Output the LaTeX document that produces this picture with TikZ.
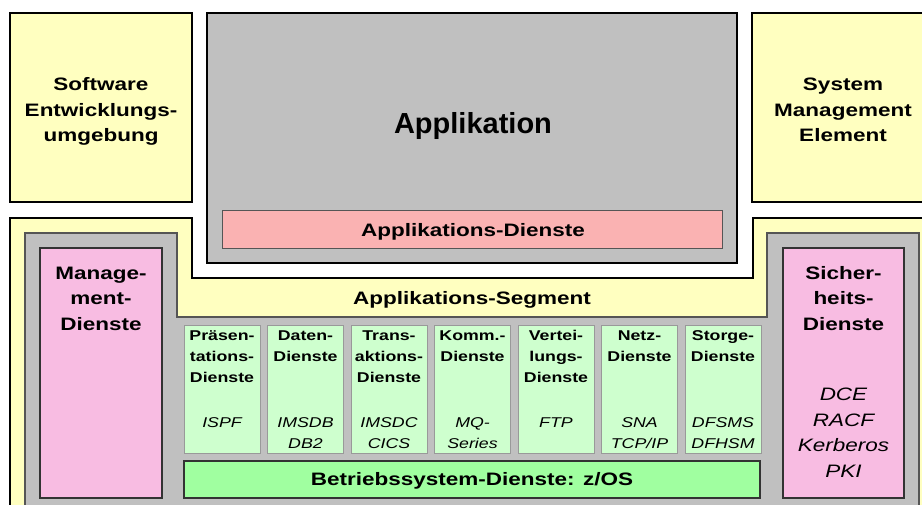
\documentclass[tikz,border=0pt]{standalone}
\usepackage{fontspec}
\setmainfont{Liberation Sans}[FakeStretch=1.25]
\newfontfamily\plainfont{Liberation Sans}
\definecolor{gelb}{RGB}{255,255,192}
\definecolor{grau}{RGB}{192,192,192}
\definecolor{lachs}{RGB}{250,178,178}
\definecolor{rosa}{RGB}{248,188,226}
\definecolor{hgruen}{RGB}{206,255,206}
\definecolor{gruen}{RGB}{160,255,160}
\definecolor{rand}{RGB}{85,85,85}

\begin{document}
\begin{tikzpicture}[x=1pt,y=-1pt,
    rahmen/.style={draw=black,line width=2pt},
    titel/.style={anchor=base,align=center,inner sep=0pt,font=\fontsize{18}{25.5}\selectfont\bfseries},
    titelk/.style={anchor=base,align=center,inner sep=0pt,font=\fontsize{18}{25.5}\selectfont\itshape},
    klein/.style={anchor=base,align=center,inner sep=0pt,font=\fontsize{14.2}{21}\selectfont\bfseries},
    kursiv/.style={anchor=base,align=center,inner sep=0pt,font=\fontsize{14.2}{21}\selectfont\itshape},
    dienst/.style={draw=black!40,line width=0.8pt,fill=hgruen}]
    \useasboundingbox (0,0) rectangle (922,504);
    \clip (0,0) rectangle (922,504);
    % Obere Kaesten (Knoten sitzen auf der letzten Grundlinie)
    \draw[rahmen,fill=gelb] (10,13) rectangle (192,202);
    \draw[rahmen,fill=gelb] (752,13) rectangle (934,202);
    \draw[rahmen,fill=grau] (207,13) rectangle (737,263);
    \draw[draw=rand,line width=1pt,fill=lachs] (222,210) rectangle (722,248);
    \node[titel] (swe) at (101,141.5) {Software\\Entwicklungs-\\umgebung};
    \node[titel] (sme) at (843,141.5) {System\\Management\\Element};
    \node[anchor=base,inner sep=0pt,font=\fontsize{29}{34}\selectfont\plainfont\bfseries] (apl) at (473,133.3) {Applikation};
    \node[titel] (apd) at (473,236.7) {Applikations-Dienste};
    % Segment (gelb) und Rahmen (grau)
    \draw[rahmen,fill=gelb] (10,218) -- (192,218) -- (192,278) -- (753,278) -- (753,218) -- (934,218) -- (934,520) -- (10,520) -- cycle;
    \draw[draw=rand,line width=1.2pt,fill=grau] (25,233) -- (177,233) -- (177,317) -- (767,317) -- (767,233) -- (919,233) -- (919,520) -- (25,520) -- cycle;
    \node[titel] (seg) at (472,304) {Applikations-Segment};
    % Seitliche Dienste
    \draw[draw=black!80,line width=1.2pt,fill=rosa] (40,248) rectangle (162,498);
    \draw[draw=black!80,line width=1.2pt,fill=rosa] (783,248) rectangle (904,498);
    \node[titel] (mgd) at (101,330) {Manage-\\ment-\\Dienste};
    \node[titel] (sid) at (843.5,330) {Sicher-\\heits-\\Dienste};
    \node[titelk] (sik) at (843.5,477) {DCE\\RACF\\Kerberos\\PKI};
    % Dienste-Spalten
    \draw[dienst] (184,325) rectangle (260,453);
    \draw[dienst] (267.5,325) rectangle (343.5,453);
    \draw[dienst] (351,325) rectangle (427,453);
    \draw[dienst] (434.5,325) rectangle (510.5,453);
    \draw[dienst] (518,325) rectangle (594,453);
    \draw[dienst] (601.5,325) rectangle (677.5,453);
    \draw[dienst] (685,325) rectangle (761,453);
    \node[klein] (pra) at (222,382) {Präsen-\\tations-\\Dienste}; \node[kursiv] (prk) at (222,427) {ISPF};
    \node[klein] (dat) at (305.5,361) {Daten-\\Dienste}; \node[kursiv] (dak) at (305.5,448) {IMSDB\\DB2};
    \node[klein] (tra) at (389,382) {Trans-\\aktions-\\Dienste}; \node[kursiv] (trk) at (389,448) {IMSDC\\CICS};
    \node[klein] (kom) at (472.5,361) {Komm.-\\Dienste}; \node[kursiv] (kok) at (472.5,448) {MQ-\\Series};
    \node[klein] (ver) at (556,382) {Vertei-\\lungs-\\Dienste}; \node[kursiv] (vek) at (556,427) {FTP};
    \node[klein] (net) at (639.5,361) {Netz-\\Dienste}; \node[kursiv] (nek) at (639.5,448) {SNA\\TCP/IP};
    \node[klein] (sto) at (723,361) {Storge-\\Dienste}; \node[kursiv] (stk) at (723,448) {DFSMS\\DFHSM};
    % Betriebssystem
    \draw[draw=black!80,line width=1.2pt,fill=gruen] (184,461) rectangle (760,498);
    \node[titel] (bsd) at (472,485) {Betriebssystem-Dienste: z/OS};
\end{tikzpicture}
\end{document}
